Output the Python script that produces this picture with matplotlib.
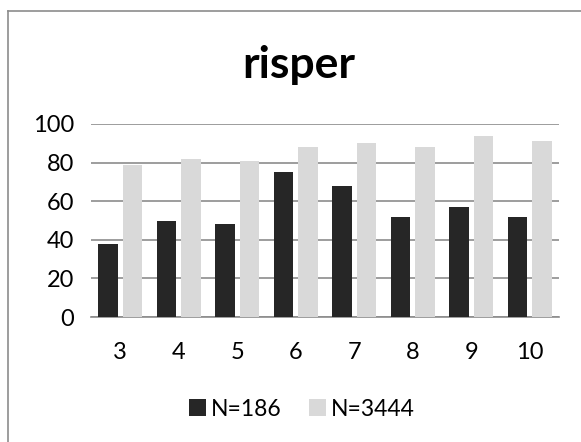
import matplotlib
matplotlib.use("Agg")
import matplotlib.pyplot as plt
from matplotlib.lines import Line2D
import numpy as np

categories = ["3", "4", "5", "6", "7", "8", "9", "10"]
n186 = [38, 50, 48, 75, 68, 52, 57, 52]
n3444 = [79, 82, 81, 88, 90, 88, 94, 91]
series_names = ["N=186", "N=3444"]

plt.rcParams['font.family'] = ['Lato', 'DejaVu Sans']

fig = plt.figure(figsize=(5.81, 4.42), dpi=100)
ax = fig.add_axes([91 / 581, 1 - 317 / 442, (559 - 91) / 581, (317 - 124) / 442])

x = np.arange(len(categories))
w = 0.33
ax.bar(x - 0.21, n186, w, color="#262626", label=series_names[0], zorder=3)
ax.bar(x + 0.21, n3444, w, color="#d9d9d9", label=series_names[1], zorder=3)

ax.set_xlim(-0.5, len(categories) - 0.5)
ax.set_ylim(0, 100)
ax.set_yticks(range(0, 101, 20))
ax.set_xticks(x)
ax.set_xticklabels(categories)
ax.tick_params(length=0, labelsize=17, colors="black")
ax.tick_params(axis="x", pad=18)
ax.tick_params(axis="y", pad=12)
ax.yaxis.grid(True, color="#8c8c8c", linewidth=1.2, zorder=0)
for s in ["top", "right", "left"]:
    ax.spines[s].set_visible(False)
ax.spines["bottom"].set_color("#8c8c8c")
ax.spines["bottom"].set_linewidth(1.2)

fig.text(299 / 581, 1 - 65 / 442, "risper", ha="center", va="center",
         fontsize=32, fontweight="bold")

fig.legend(loc="center", bbox_to_anchor=(302 / 581, 1 - 409 / 442), ncol=2,
           frameon=False, fontsize=16.5, handlelength=0.75, handleheight=0.75,
           handletextpad=0.2, columnspacing=1.2)

# outer frame (left and top edges visible)
fig.add_artist(Line2D([8 / 581, 8 / 581], [0, 1 - 11 / 442], transform=fig.transFigure,
                      color="#8c8c8c", linewidth=1.2))
fig.add_artist(Line2D([8 / 581, 1], [1 - 11 / 442, 1 - 11 / 442], transform=fig.transFigure,
                      color="#8c8c8c", linewidth=1.2))

fig.savefig("out.png", dpi=100)
